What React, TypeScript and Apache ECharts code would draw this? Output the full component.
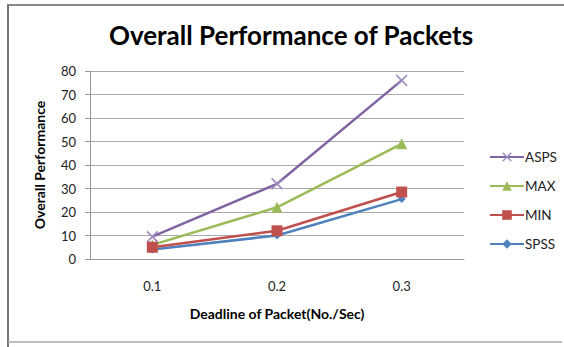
import React, { useEffect, useRef } from "react";
import * as echarts from "echarts";

const categories = ["0.1", "0.2", "0.3"];
const aspsValues = [9.5, 32, 76];
const maxValues = [6, 22, 49];
const minValues = [5, 12, 28.5];
const spssValues = [4, 10, 25.5];
const seriesNames = ["ASPS", "MAX", "MIN", "SPSS"];

const crossPath =
  "path://M0,1L1,0L5,4L9,0L10,1L6,5L10,9L9,10L5,6L1,10L0,9L4,5Z";

export default function App() {
  const ref = useRef<HTMLDivElement>(null);
  useEffect(() => {
    document.body.style.margin = "0";
    if (!ref.current) return;
    const chart = echarts.init(ref.current, null, { renderer: "svg" });
    const font = "Lato, 'Open Sans', sans-serif";
    chart.setOption({
      animation: false,
      backgroundColor: "#ffffff",
      textStyle: { fontFamily: font },
      title: {
        text: "Overall Performance of Packets",
        left: 286,
        top: 17,
        textAlign: "center",
        textStyle: { fontSize: 26, fontWeight: "bold", color: "#000", fontFamily: font },
      },
      graphic: [
        { type: "line", shape: { x1: 7, y1: 5, x2: 564, y2: 5 }, style: { stroke: "#888", lineWidth: 2 } },
        { type: "line", shape: { x1: 8, y1: 5, x2: 8, y2: 347 }, style: { stroke: "#777", lineWidth: 2 } },
        { type: "line", shape: { x1: 8, y1: 342, x2: 562, y2: 342 }, style: { stroke: "#aaa", lineWidth: 1.5 } },
      ],
      legend: {
        orient: "vertical",
        left: 484,
        top: 145,
        itemWidth: 34,
        itemHeight: 12,
        itemGap: 15,
        data: seriesNames,
        textStyle: { fontSize: 13.5, color: "#222", padding: [0, 0, 0, -4] },
      },
      grid: { left: 90, right: 100, top: 71, bottom: 88 },
      xAxis: {
        type: "category",
        data: categories,
        boundaryGap: true,
        name: "Deadline of Packet(No./Sec)",
        nameLocation: "middle",
        nameGap: 47,
        nameTextStyle: { fontSize: 14, fontWeight: "bold", color: "#000" },
        axisLine: { lineStyle: { color: "#999" } },
        axisTick: { show: false },
        axisLabel: { fontSize: 13, color: "#222", margin: 20 },
      },
      yAxis: {
        type: "value",
        min: 0,
        max: 80,
        interval: 10,
        name: "Overall Performance",
        nameLocation: "middle",
        nameGap: 44,
        nameTextStyle: { fontSize: 14, fontWeight: "bold", color: "#000" },
        axisLine: { show: true, lineStyle: { color: "#999" } },
        axisTick: { show: true, length: 5, lineStyle: { color: "#999" } },
        axisLabel: { fontSize: 13, color: "#222", margin: 14 },
        splitLine: { lineStyle: { color: "#aaa", width: 1 } },
      },
      series: [
        {
          name: "ASPS",
          type: "line",
          data: aspsValues,
          symbol: crossPath,
          symbolSize: 12,
          color: "#8064A2",
          lineStyle: { width: 2.5, color: "#8064A2" },
          itemStyle: { color: "#9f8cc0" },
        },
        {
          name: "MAX",
          type: "line",
          data: maxValues,
          symbol: "triangle",
          symbolSize: 11,
          color: "#9BBB59",
          lineStyle: { width: 2.5, color: "#9BBB59" },
          itemStyle: { color: "#9BBB59" },
        },
        {
          name: "MIN",
          type: "line",
          data: minValues,
          symbol: "rect",
          symbolSize: 11,
          color: "#C0504D",
          lineStyle: { width: 2.5, color: "#C0504D" },
          itemStyle: { color: "#C0504D" },
        },
        {
          name: "SPSS",
          type: "line",
          data: spssValues,
          symbol: "diamond",
          symbolSize: 8,
          color: "#4F81BD",
          lineStyle: { width: 2.5, color: "#4F81BD" },
          itemStyle: { color: "#4F81BD" },
          z: 1,
        },
      ],
    });
    return () => chart.dispose();
  }, []);
  return <div ref={ref} style={{ width: 564, height: 347 }} />;
}
